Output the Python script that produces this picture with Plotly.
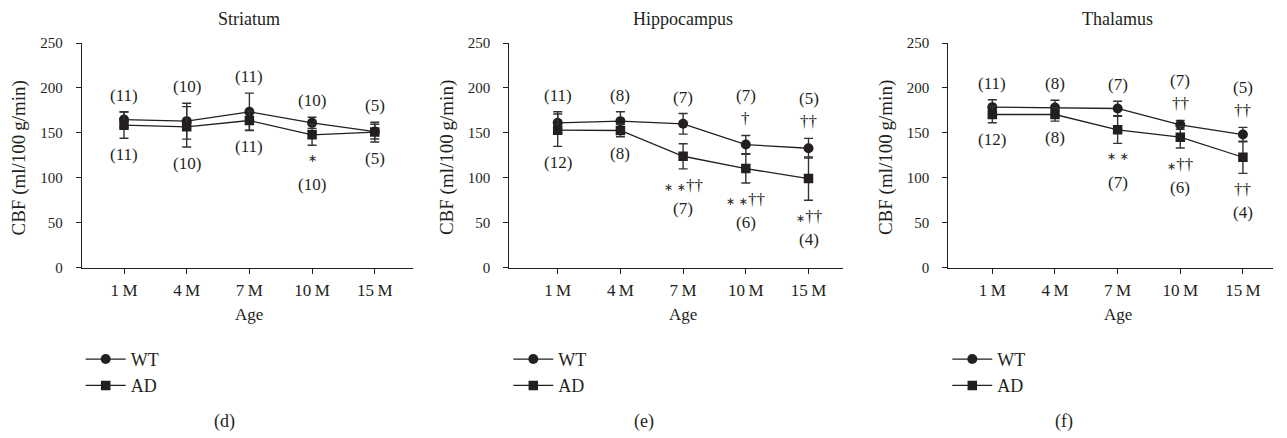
import plotly.graph_objects as go

# ---------------- data ----------------
ages = ["1\u2009M", "4\u2009M", "7\u2009M", "10\u2009M", "15\u2009M"]
regions = ["Striatum", "Hippocampus", "Thalamus"]
panel_tags = ["(d)", "(e)", "(f)"]

striatum_wt = [164.8, 163.0, 173.4, 161.1, 151.4]
striatum_wt_err = [8.6, 20.0, 20.8, 6.3, 8.2]
striatum_ad = [158.5, 156.7, 163.7, 147.8, 150.8]
striatum_ad_err = [14.5, 22.5, 10.7, 11.6, 11.0]

hippocampus_wt = [161.1, 163.0, 160.0, 136.9, 132.8]
hippocampus_wt_err = [12.3, 10.4, 11.5, 10.2, 11.0]
hippocampus_ad = [152.9, 152.6, 123.9, 110.2, 99.0]
hippocampus_ad_err = [18.0, 7.0, 14.0, 16.0, 24.0]

thalamus_wt = [178.6, 178.2, 177.1, 158.9, 148.1]
thalamus_wt_err = [8.2, 8.0, 8.0, 5.0, 8.0]
thalamus_ad = [170.4, 170.4, 153.3, 145.1, 122.8]
thalamus_ad_err = [9.2, 7.4, 15.0, 12.0, 18.0]

AST = "<span style='font-family:DejaVu Sans;font-size:11px'>\u2217</span>"
AST2 = "<span style='font-family:DejaVu Sans;font-size:11px'>\u2217 \u2217</span>"

striatum_n_wt = ["(11)", "(10)", "(11)", "(10)", "(5)"]
striatum_n_ad = ["(11)", "(10)", "(11)", "(10)", "(5)"]
striatum_sig_wt = ["", "", "", "", ""]
striatum_sig_ad = ["", "", "", AST, ""]

hippocampus_n_wt = ["(11)", "(8)", "(7)", "(7)", "(5)"]
hippocampus_n_ad = ["(12)", "(8)", "(7)", "(6)", "(4)"]
hippocampus_sig_wt = ["", "", "", "\u2020", "\u2020\u2020"]
hippocampus_sig_ad = ["", "", AST2 + "\u2020\u2020", AST2 + "\u2020\u2020", AST + "\u2020\u2020"]

thalamus_n_wt = ["(11)", "(8)", "(7)", "(7)", "(5)"]
thalamus_n_ad = ["(12)", "(8)", "(7)", "(6)", "(4)"]
thalamus_sig_wt = ["", "", "", "\u2020\u2020", "\u2020\u2020"]
thalamus_sig_ad = ["", "", AST2, AST + "\u2020\u2020", "\u2020\u2020"]

panels = [
    (striatum_wt, striatum_wt_err, striatum_ad, striatum_ad_err,
     striatum_n_wt, striatum_n_ad, striatum_sig_wt, striatum_sig_ad),
    (hippocampus_wt, hippocampus_wt_err, hippocampus_ad, hippocampus_ad_err,
     hippocampus_n_wt, hippocampus_n_ad, hippocampus_sig_wt, hippocampus_sig_ad),
    (thalamus_wt, thalamus_wt_err, thalamus_ad, thalamus_ad_err,
     thalamus_n_wt, thalamus_n_ad, thalamus_sig_wt, thalamus_sig_ad),
]

# ---------------- layout geometry ----------------
W, H = 1287, 438
SY, OY = 0.963, 8.3   # observed vertical mapping of the captured page
INK = "#231f20"
FONT = "Liberation Serif"


def px_x(x):
    return x / W


def px_y(y):
    return 1 - ((y - OY) / SY) / H


x_px = [(81.7, 413.0), (509.3, 843.0), (948.3, 1273.0)]
x_ranges = [[-0.675, 4.61], [-0.772, 4.55], [-0.703, 4.48]]
y_dom = [px_y(267.7), px_y(43.3)]

fig = go.Figure()
annotations = []
xs = list(range(len(ages)))

for i, (wt, wte, ad, ade, nwt, nad, swt, sad) in enumerate(panels):
    sfx = "" if i == 0 else str(i + 1)
    xa, ya = "x" + sfx, "y" + sfx
    leg = "legend" + sfx
    fig.add_trace(go.Scatter(
        x=xs, y=wt, name="WT", mode="lines+markers", xaxis=xa, yaxis=ya, legend=leg,
        line=dict(color=INK, width=1.3),
        marker=dict(symbol="circle", size=10, color=INK),
        error_y=dict(type="data", array=wte, visible=True, color="#333333",
                     thickness=1.4, width=4.5),
    ))
    fig.add_trace(go.Scatter(
        x=xs, y=ad, name="AD", mode="lines+markers", xaxis=xa, yaxis=ya, legend=leg,
        line=dict(color=INK, width=1.3),
        marker=dict(symbol="square", size=9.5, color=INK),
        error_y=dict(type="data", array=ade, visible=True, color="#333333",
                     thickness=1.4, width=4.5),
    ))

    x0, x1 = x_px[i]
    fig.layout["xaxis" + sfx] = dict(
        domain=[px_x(x0), px_x(x1)], anchor=ya, range=x_ranges[i],
        tickvals=xs, ticktext=ages, ticks="outside", ticklen=5, tickwidth=1,
        tickcolor=INK, showline=True, linecolor=INK, linewidth=1,
        showgrid=False, zeroline=False, ticklabelstandoff=2,
        tickfont=dict(family=FONT, size=17, color=INK),
    )
    fig.layout["yaxis" + sfx] = dict(
        domain=y_dom, anchor=xa, range=[0, 250], tickvals=[0, 50, 100, 150, 200, 250],
        ticks="outside", ticklen=5, tickwidth=1, tickcolor=INK,
        showline=True, linecolor=INK, linewidth=1, showgrid=False, zeroline=False,
        ticklabelstandoff=10, tickfont=dict(family=FONT, size=15, color=INK),
    )
    fig.layout[leg] = dict(
        x=px_x(x0 - 1), y=px_y(341), xanchor="left", yanchor="top",
        bgcolor="rgba(0,0,0,0)", font=dict(family=FONT, size=18, color=INK),
        itemwidth=40, tracegroupgap=0,
    )

    # panel title, axis titles, panel tag
    annotations.append(dict(text=regions[i], x=2, xref=xa, y=px_y(19), yref="paper",
                            yanchor="middle", showarrow=False,
                            font=dict(family=FONT, size=18, color=INK)))
    annotations.append(dict(text="Age", x=2, xref=xa, y=px_y(315), yref="paper",
                            yanchor="middle", showarrow=False,
                            font=dict(family=FONT, size=17, color=INK)))
    annotations.append(dict(text="CBF (ml/100\u2009g/min)", x=px_x(x0 - 63), xref="paper",
                            y=px_y(158), yref="paper", xanchor="center", yanchor="middle",
                            textangle=-90, showarrow=False,
                            font=dict(family=FONT, size=19, color=INK)))
    annotations.append(dict(text=panel_tags[i], x=px_x(212 + i * 431.5), xref="paper",
                            y=px_y(422), yref="paper", yanchor="middle", showarrow=False,
                            font=dict(family=FONT, size=18, color=INK)))

    gap, line = 5, 23
    afont = dict(family=FONT, size=17, color=INK)
    for j in xs:
        top = max(wt[j] + wte[j], ad[j] + ade[j])
        bot = min(wt[j] - wte[j], ad[j] - ade[j])
        extra = 0
        if swt[j]:
            annotations.append(dict(text=swt[j], x=j, xref=xa, y=top, yref=ya,
                                    yanchor="bottom", yshift=gap, showarrow=False, font=afont))
            extra = line
        annotations.append(dict(text=nwt[j], x=j, xref=xa, y=top, yref=ya,
                                yanchor="bottom", yshift=gap + extra, showarrow=False, font=afont))
        extra = 0
        if sad[j]:
            annotations.append(dict(text=sad[j], x=j, xref=xa, y=bot, yref=ya,
                                    yanchor="top", yshift=-gap, showarrow=False, font=afont))
            extra = line
        annotations.append(dict(text=nad[j], x=j, xref=xa, y=bot, yref=ya,
                                yanchor="top", yshift=-(gap + extra), showarrow=False, font=afont))

fig.update_layout(
    width=W, height=H, autosize=False,
    margin=dict(l=0, r=0, t=0, b=0),
    paper_bgcolor="white", plot_bgcolor="white",
    annotations=annotations,
    font=dict(family=FONT, color=INK),
)

fig.write_html("out.html", config={"displayModeBar": False},
               post_script="document.body.style.margin='0';")
